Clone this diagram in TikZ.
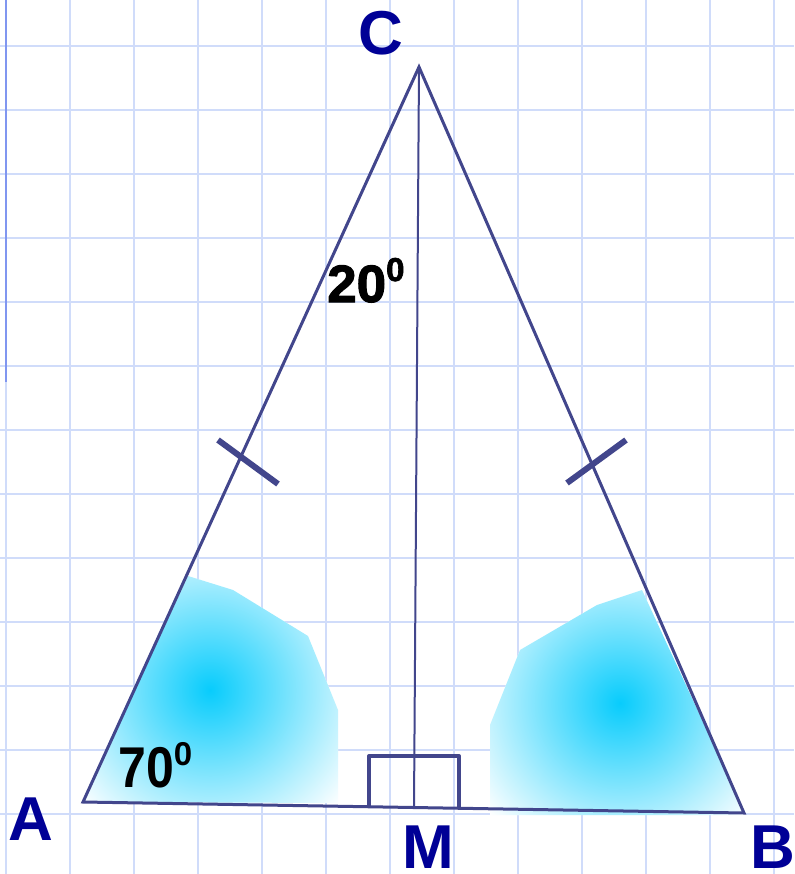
\documentclass[tikz,border=0pt]{standalone}
\usepackage{fontspec}
\setmainfont{Liberation Sans}
\newfontfamily\heavyfont{Liberation Sans Bold}[FakeBold=2]
\usetikzlibrary{calc}
\definecolor{gridc}{RGB}{208,220,250}
\definecolor{edgec}{RGB}{128,150,240}
\definecolor{linec}{RGB}{66,70,140}
\definecolor{labc}{RGB}{0,0,150}
\definecolor{fillc}{RGB}{8,204,252}
\tikzset{
  gridline/.style={gridc,line width=2pt},
  side/.style={linec,line width=3pt,line join=miter},
  tick/.style={linec,line width=6pt},
  vlabel/.style={labc,font=\fontsize{62}{62}\bfseries\selectfont,inner sep=0pt,anchor=base},
  anglab/.style={black,font=\fontsize{50}{50}\bfseries\selectfont,inner sep=0pt,anchor=base west},
  shadebox/.style={inner color=fillc,outer color=white}
}
\begin{document}
\begin{tikzpicture}[x=1pt,y=-1pt]
\useasboundingbox (0,0) rectangle (794,874);
\fill[white] (0,0) rectangle (794,874);
% grid
\foreach \k in {0,...,12}{
  \draw[gridline] ({6+64*\k},0) -- ({6+64*\k},874);
  \draw[gridline] (0,{46+64*\k}) -- (794,{46+64*\k});
}
\draw[edgec,line width=2.5pt] (6,0) -- (6,382);
% shaded regions
\begin{scope}
  \clip (83,802) -- (188,576) -- (233,590) -- (308,636) -- (338,710) -- (338,803) -- cycle;
  \fill[white] (0,500) rectangle (400,874);
  \shade[shadebox] (210,690) circle (172);
\end{scope}
\begin{scope}
  \clip (490,815) -- (490,725) -- (520,650) -- (597,605) -- (642,590) -- (648,603) -- (746,815) -- cycle;
  \fill[white] (450,500) rectangle (794,874);
  \shade[shadebox] (620,703) circle (172);
\end{scope}
% points
\coordinate (A) at (83,802);
\coordinate (B) at (744,813);
\coordinate (C) at (419,67);
\coordinate (M) at (414,807);
% right angle square
\draw[linec,line width=4pt,line join=round] (369,807) -- (369,756) -- (459,756) -- (459,808);
% median
\draw[linec,line width=2pt] (C) -- (M);
% triangle
\draw[side] (A) -- (B) -- (C) -- cycle;
% ticks
\coordinate (t1a) at (218,440); \coordinate (t1b) at (278,484);
\coordinate (t2a) at (567,483); \coordinate (t2b) at (626,440);
\draw[tick] (t1a) -- (t1b);
\draw[tick] (t2a) -- (t2b);
% labels
\node[vlabel] (lC) at (381,55) {C};
\node[vlabel] (lA) at (31,840) {A};
\node[vlabel] (lM) at (428,868) {M};
\node[vlabel] (lB) at (773,868) {B};
\node[anglab] (a70) at (118,787) {\scalebox{1}[1.15]{70}\raisebox{22pt}{\fontsize{33}{33}\selectfont 0}};
\node[anglab,font=\fontsize{50}{50}\heavyfont] (a20) at (327,302) {\scalebox{1.06}[1.05]{20}\raisebox{21pt}{\fontsize{33}{33}\selectfont 0}};
\end{tikzpicture}
\end{document}
